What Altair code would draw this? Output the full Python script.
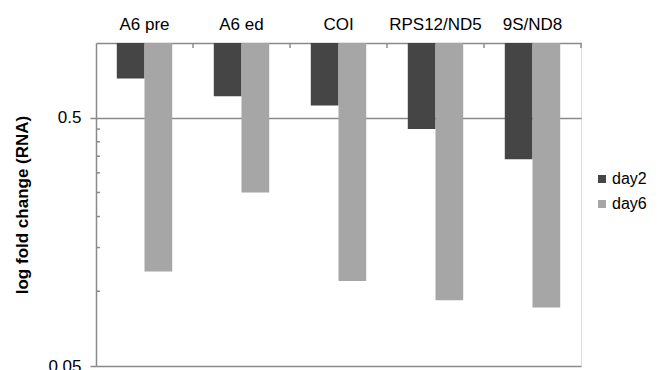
import altair as alt
import pandas as pd

categories = ["A6 pre", "A6 ed", "COI", "RPS12/ND5", "9S/ND8"]
series = ["day2", "day6"]
day2 = [0.72, 0.61, 0.56, 0.45, 0.34]
day6 = [0.12, 0.25, 0.11, 0.092, 0.086]
minor_ticks = [0.1, 0.15, 0.2, 0.25, 0.3, 0.35, 0.4, 0.45]
major_ticks = [0.05, 0.5]
colors = ["#454545", "#a6a6a6"]

rows = []
for c, a, b in zip(categories, day2, day6):
    rows.append({"cat": c, "series": "day2", "value": a, "top": 1.0})
    rows.append({"cat": c, "series": "day6", "value": b, "top": 1.0})
df = pd.DataFrame(rows)
tick_df = pd.DataFrame({"cat": categories})
minor_df = pd.DataFrame({"value": minor_ticks})

FONT = "Liberation Sans"
GRAY = "#8a8a8a"
FS = 17
W, H = 485, 323

yscale = alt.Scale(type="log", domain=[0.05, 1], nice=False)
xscale = alt.Scale(paddingInner=0, paddingOuter=0)

bars = alt.Chart(df).mark_bar().encode(
    x=alt.X("cat:N", sort=categories, scale=xscale,
            axis=alt.Axis(orient="top", title=None, labelAngle=0, ticks=False,
                          tickSize=0, labelPadding=14, labelBaseline="alphabetic",
                          labelFontSize=FS, labelFont=FONT, labelColor="#000",
                          domainColor=GRAY, domainWidth=1.5)),
    xOffset=alt.XOffset("series:N", sort=series,
                        scale=alt.Scale(paddingInner=0, paddingOuter=0.75)),
    y=alt.Y("value:Q", scale=yscale,
            axis=alt.Axis(values=major_ticks, format="~g", title="log fold change (RNA)",
                          tickSize=6, tickColor=GRAY, tickWidth=1.5,
                          labelPadding=9, labelFontSize=FS, labelFont=FONT,
                          labelColor="#000", domainColor=GRAY, domainWidth=1.5,
                          grid=True, gridColor=GRAY, gridWidth=1.5,
                          titleFont=FONT, titleFontSize=FS, titleFontWeight="bold",
                          titleColor="#000", titleX=-74, titleY=H / 2,
                          titleAngle=-90, titleAlign="center", titleBaseline="middle")),
    y2=alt.Y2("top:Q"),
    color=alt.Color("series:N", sort=series,
                    scale=alt.Scale(domain=series, range=colors),
                    legend=alt.Legend(title=None, orient="none", legendX=498, legendY=128,
                                      symbolType="square", symbolSize=64,
                                      symbolStrokeWidth=0, labelFontSize=16,
                                      labelFont=FONT, labelColor="#000",
                                      rowPadding=9, labelOffset=2)),
)

top_ticks = alt.Chart(tick_df).mark_rule(color=GRAY, strokeWidth=1.5).encode(
    x=alt.X("cat:N", sort=categories, bandPosition=1, scale=xscale),
    y=alt.value(0),
    y2=alt.value(5),
)

minor = alt.Chart(minor_df).mark_rule(color=GRAY, strokeWidth=1.5).encode(
    y=alt.Y("value:Q", scale=yscale),
    x=alt.value(0),
    x2=alt.value(4),
)

chart = alt.layer(bars, top_ticks, minor).properties(
    width=W, height=H,
    autosize=alt.AutoSizeParams(type="none"),
    padding={"left": 88, "top": 35, "right": 70, "bottom": 5},
).configure_view(stroke=None).configure(background="white")

chart.save("out.html", embed_options={"renderer": "svg", "actions": False})
